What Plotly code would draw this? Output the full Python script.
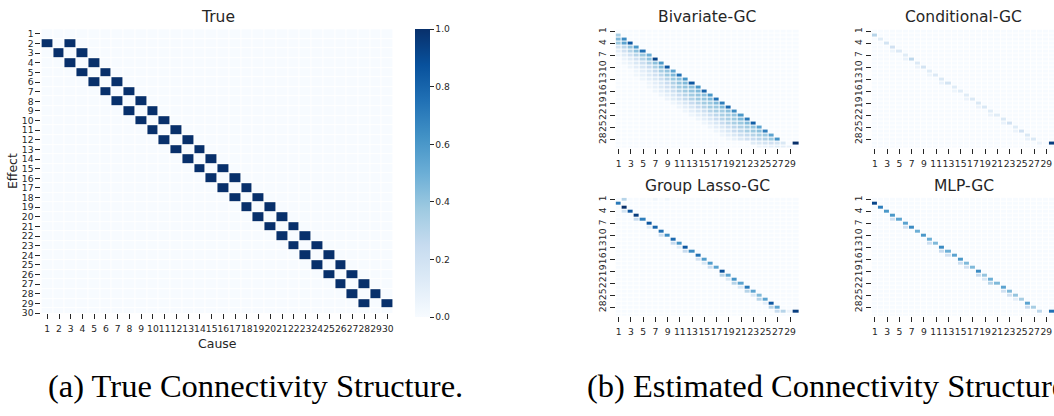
import plotly.graph_objects as go

# ---------------- data ----------------
N = 30
labels = list(range(1, N + 1))

# true causal graph: (effect, cause) pairs with weight 1
true_pairs = [
    (2, 1), (2, 3), (3, 2), (3, 4), (4, 3), (4, 5), (5, 4), (5, 6), (6, 5), (6, 7),
    (7, 6), (7, 8), (8, 7), (8, 9), (9, 8), (9, 10), (10, 9), (10, 11), (11, 10), (11, 12),
    (12, 11), (12, 13), (13, 12), (13, 14), (14, 13), (14, 15), (15, 14), (15, 16),
    (16, 15), (16, 17), (17, 16), (17, 18), (18, 17), (18, 19), (19, 18), (19, 20),
    (20, 19), (20, 21), (21, 20), (21, 22), (22, 21), (22, 23), (23, 22), (23, 24),
    (24, 23), (24, 25), (25, 24), (25, 26), (26, 25), (26, 27), (27, 26), (27, 28),
    (28, 27), (28, 29), (29, 28), (29, 30),
]

# Bivariate-GC: per effect row, first cause column and the band of strengths up to column row-1
bivariate_band = [
    (2, 1, [0.35]),
    (3, 1, [0.45, 0.65]),
    (4, 1, [0.38, 0.55, 0.85]),
    (5, 1, [0.18, 0.28, 0.40, 0.60]),
    (6, 1, [0.10, 0.20, 0.30, 0.42, 0.75]),
    (7, 1, [0.05, 0.12, 0.20, 0.30, 0.38, 0.50]),
    (8, 2, [0.06, 0.12, 0.20, 0.30, 0.42, 0.92]),
    (9, 2, [0.04, 0.08, 0.15, 0.22, 0.32, 0.42, 0.60]),
    (10, 3, [0.05, 0.10, 0.16, 0.24, 0.33, 0.45, 0.85]),
    (11, 4, [0.05, 0.10, 0.16, 0.25, 0.35, 0.40, 0.55]),
    (12, 4, [0.04, 0.08, 0.14, 0.20, 0.28, 0.38, 0.45, 0.75]),
    (13, 5, [0.05, 0.10, 0.15, 0.22, 0.30, 0.38, 0.42, 0.62]),
    (14, 6, [0.05, 0.10, 0.16, 0.24, 0.32, 0.40, 0.45, 0.85]),
    (15, 6, [0.04, 0.08, 0.14, 0.20, 0.28, 0.36, 0.40, 0.42, 0.60]),
    (16, 7, [0.05, 0.10, 0.16, 0.22, 0.30, 0.36, 0.40, 0.45, 0.80]),
    (17, 8, [0.05, 0.10, 0.16, 0.24, 0.30, 0.36, 0.40, 0.42, 0.60]),
    (18, 9, [0.06, 0.12, 0.18, 0.26, 0.32, 0.38, 0.40, 0.45, 0.75]),
    (19, 10, [0.05, 0.10, 0.16, 0.24, 0.30, 0.36, 0.38, 0.45, 0.70]),
    (20, 11, [0.05, 0.10, 0.16, 0.24, 0.30, 0.36, 0.38, 0.45, 0.78]),
    (21, 12, [0.05, 0.10, 0.16, 0.22, 0.30, 0.34, 0.36, 0.42, 0.65]),
    (22, 13, [0.05, 0.10, 0.15, 0.22, 0.28, 0.34, 0.36, 0.40, 0.60]),
    (23, 14, [0.05, 0.10, 0.16, 0.24, 0.30, 0.34, 0.38, 0.45, 0.72]),
    (24, 15, [0.05, 0.10, 0.16, 0.24, 0.30, 0.34, 0.38, 0.45, 0.82]),
    (25, 16, [0.05, 0.10, 0.15, 0.22, 0.28, 0.32, 0.36, 0.40, 0.55]),
    (26, 17, [0.05, 0.10, 0.16, 0.24, 0.28, 0.34, 0.38, 0.42, 0.70]),
    (27, 18, [0.05, 0.10, 0.15, 0.22, 0.26, 0.30, 0.34, 0.38, 0.55]),
    (28, 19, [0.04, 0.08, 0.14, 0.20, 0.24, 0.28, 0.32, 0.38, 0.62]),
    (29, 23, [0.12, 0.15, 0.18, 0.20, 0.18, 0.15]),
    (30, 24, [0.06, 0.08, 0.10, 0.12, 0.10, 0.08]),
]
bivariate_extra = [(29, 30, 1.0)]

# Conditional-GC: (effect, cause, strength)
conditional_cells = [
    (2, 1, 0.30), (3, 2, 0.12), (4, 3, 0.18), (5, 4, 0.20), (6, 5, 0.14), (6, 4, 0.05),
    (7, 6, 0.12), (8, 7, 0.28), (8, 6, 0.07), (9, 8, 0.14), (10, 9, 0.18), (10, 8, 0.06),
    (11, 10, 0.12), (12, 11, 0.14), (12, 10, 0.05), (13, 12, 0.15), (14, 13, 0.18),
    (14, 12, 0.07), (15, 14, 0.12), (16, 15, 0.12), (16, 14, 0.05), (17, 16, 0.12),
    (18, 17, 0.15), (18, 16, 0.06), (19, 18, 0.15), (20, 19, 0.15), (20, 18, 0.06),
    (21, 20, 0.12), (22, 21, 0.12), (22, 20, 0.06), (23, 22, 0.15), (24, 23, 0.20),
    (24, 22, 0.07), (25, 24, 0.12), (26, 25, 0.20), (26, 24, 0.06), (27, 26, 0.15),
    (28, 27, 0.15), (28, 26, 0.07), (29, 28, 0.06), (29, 30, 0.95),
]

# Group Lasso-GC: (effect, cause, strength)
group_lasso_cells = [
    (1, 2, 0.30), (1, 7, 0.04), (1, 9, 0.04),
    (2, 1, 0.72), (3, 2, 1.00), (4, 2, 0.18), (4, 3, 0.85), (5, 4, 0.95), (6, 4, 0.25),
    (6, 5, 0.70), (7, 6, 0.85), (8, 6, 0.12), (8, 7, 0.80), (9, 8, 0.75), (10, 8, 0.22),
    (10, 9, 0.65), (11, 10, 0.78), (12, 10, 0.25), (12, 11, 0.62), (13, 11, 0.12),
    (13, 12, 0.85), (14, 12, 0.25), (14, 13, 0.65), (15, 14, 0.75), (16, 14, 0.20),
    (16, 15, 0.58), (17, 15, 0.15), (17, 16, 0.58), (18, 16, 0.22), (18, 17, 0.55),
    (19, 18, 0.88), (20, 18, 0.30), (20, 19, 0.55), (21, 19, 0.15), (21, 20, 0.62),
    (22, 20, 0.30), (22, 21, 0.55), (23, 21, 0.15), (23, 22, 0.72), (24, 22, 0.30),
    (24, 23, 0.55), (25, 23, 0.15), (25, 24, 0.45), (26, 24, 0.30), (26, 25, 0.55),
    (27, 25, 0.10), (27, 26, 0.85), (28, 26, 0.30), (28, 27, 0.55), (29, 27, 0.25),
    (29, 28, 0.30), (29, 29, 0.06), (29, 30, 0.95),
]

# MLP-GC: (effect, cause, strength)
mlp_cells = [
    (2, 1, 0.92), (3, 2, 0.70), (4, 3, 0.60), (5, 4, 0.60), (6, 4, 0.20), (6, 5, 0.55),
    (7, 6, 0.55), (8, 6, 0.20), (8, 7, 0.65), (9, 8, 0.50), (10, 9, 0.60), (11, 10, 0.50),
    (12, 10, 0.22), (12, 11, 0.45), (13, 12, 0.65), (14, 12, 0.25), (14, 13, 0.50),
    (15, 13, 0.20), (15, 14, 0.55), (16, 15, 0.60), (17, 15, 0.22), (17, 16, 0.45),
    (18, 16, 0.20), (18, 17, 0.45), (19, 18, 0.65), (20, 18, 0.25), (20, 19, 0.40),
    (21, 19, 0.15), (21, 20, 0.50), (22, 20, 0.30), (22, 21, 0.45), (23, 22, 0.55),
    (24, 22, 0.20), (24, 23, 0.45), (25, 23, 0.20), (25, 24, 0.40), (26, 24, 0.10),
    (26, 25, 0.35), (27, 26, 0.55), (28, 26, 0.25), (28, 27, 0.35), (29, 28, 0.28),
    (29, 30, 0.75),
]

colorbar_ticks = [0.0, 0.2, 0.4, 0.6, 0.8, 1.0]
small_xticks = list(range(1, N + 1, 2))
small_yticks = list(range(1, N + 1, 3))

# ---------------- matrices ----------------
def empty():
    return [[0.0] * N for _ in range(N)]

def from_cells(cells):
    m = empty()
    for r, c, v in cells:
        m[r - 1][c - 1] = v
    return m

z_true = from_cells([(r, c, 1.0) for r, c in true_pairs])

z_biv = empty()
for r, c0, vals in bivariate_band:
    for k, v in enumerate(vals):
        z_biv[r - 1][c0 - 1 + k] = v
for r, c, v in bivariate_extra:
    z_biv[r - 1][c - 1] = v

z_cond = from_cells(conditional_cells)
z_gl = from_cells(group_lasso_cells)
z_mlp = from_cells(mlp_cells)

# ---------------- styling ----------------
W, H = 1054, 416
BLUES = [
    [0.0, "#f7fbff"], [0.125, "#deebf7"], [0.25, "#c6dbef"], [0.375, "#9ecae1"],
    [0.5, "#6baed6"], [0.625, "#4292c6"], [0.75, "#2171b5"], [0.875, "#08519c"],
    [1.0, "#08306b"],
]
INK = "#262626"
SANS = "DejaVu Sans"
TICK_FONT = dict(family=SANS, size=9.2, color=INK)


def xdom(left, right):
    return [left / W, min(right / W, 1.0)]


def ydom(top, bottom):
    return [1 - bottom / H, 1 - top / H]


fig = go.Figure()

# panel geometry in pixels: left edge, cell width, top edge, cell height
panels = [
    dict(z=z_true, left=41.4, cw=11.74, top=27.6, ch=9.79, big=True),
    dict(z=z_biv, left=615.6, cw=6.12, top=28.0, ch=4.07, big=False),
    dict(z=z_cond, left=871.9, cw=6.12, top=28.0, ch=4.07, big=False),
    dict(z=z_gl, left=615.6, cw=6.12, top=199.0, ch=4.07, big=False),
    dict(z=z_mlp, left=871.9, cw=6.12, top=199.0, ch=4.07, big=False),
]

layout_axes = {}
for i, p in enumerate(panels):
    n = "" if i == 0 else str(i + 1)
    right = p["left"] + 30 * p["cw"]
    bottom = p["top"] + 29.5 * p["ch"]  # last row is cut at its centre
    xr_end = 30.5 if right <= W else 0.5 + (W - p["left"]) / p["cw"]
    trace = go.Heatmap(
        z=p["z"], x=labels, y=labels, zmin=0, zmax=1, colorscale=BLUES,
        xgap=1, ygap=1, xaxis="x" + n, yaxis="y" + n, showscale=p["big"],
        hoverinfo="skip",
    )
    if p["big"]:
        trace.colorbar = dict(
            x=415 / W, xanchor="left", y=1 - 320.5 / H, yanchor="bottom",
            len=293 / H, lenmode="fraction", thickness=15, thicknessmode="pixels",
            outlinewidth=0, xpad=0, ypad=0, ticks="outside", ticklen=4,
            tickwidth=1, tickcolor=INK, tickvals=colorbar_ticks,
            ticktext=[f"{t:.1f}" for t in colorbar_ticks], tickfont=TICK_FONT,
        )
    fig.add_trace(trace)
    common = dict(
        showgrid=False, zeroline=False, showline=False, ticks="outside",
        ticklen=5, tickwidth=1, tickcolor=INK, tickfont=TICK_FONT,
    )
    layout_axes["xaxis" + n] = dict(
        common, domain=xdom(p["left"], right), range=[0.5, xr_end],
        tickmode="array",
        tickvals=labels if p["big"] else small_xticks,
        anchor="y" + n, tickangle=0, ticklabelstandoff=2,
    )
    layout_axes["yaxis" + n] = dict(
        common, domain=ydom(p["top"], bottom), range=[30, 0.5],
        tickmode="array",
        tickvals=labels if p["big"] else small_yticks,
        anchor="x" + n, tickangle=0 if p["big"] else -90,
    )

fig.update_layout(**layout_axes)

ann = []
def text(x, y, s, size, angle=0, family=SANS, xanchor="center", color=INK):
    ann.append(dict(
        x=x / W, y=1 - y / H, xref="paper", yref="paper", text=s, showarrow=False,
        font=dict(family=family, size=size, color=color), xanchor=xanchor,
        yanchor="middle", textangle=angle,
    ))

text(217.5, 15, "True", 15.5)
text(707.4, 15, "Bivariate-GC", 15.5)
text(964, 15, "Conditional-GC", 15.5)
text(707.4, 187, "Group Lasso-GC", 15.5)
text(964, 187, "MLP-GC", 15.5)
text(12, 172, "Effect", 12.5, angle=-90)
text(217.5, 347, "Cause", 12.5)
text(46, 391, "(a) True Connectivity Structure.", 32.5, family="Liberation Serif",
     xanchor="left", color="#000000")
text(585, 391, "(b) Estimated Connectivity Structure.", 32.5, family="Liberation Serif",
     xanchor="left", color="#000000")

fig.update_layout(
    width=W, height=H, margin=dict(l=0, r=0, t=0, b=0),
    paper_bgcolor="white", plot_bgcolor="white", annotations=ann,
    showlegend=False,
)

fig.write_html("out.html", config={"displayModeBar": False})
